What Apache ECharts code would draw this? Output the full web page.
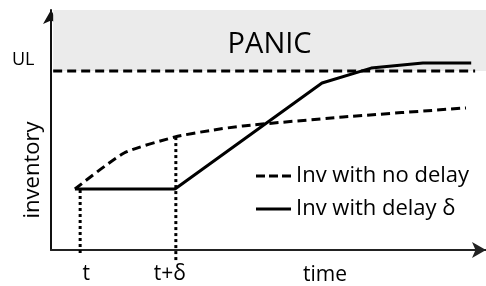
<!DOCTYPE html>
<html>
<head>
<meta charset="utf-8">
<script src="https://cdn.jsdelivr.net/npm/echarts@6/dist/echarts.min.js"></script>
<style>
  html, body { margin: 0; padding: 0; background: #fff; }
  #chart { width: 486px; height: 286px; }
</style>
</head>
<body>
<div id="chart"></div>
<script>
// inventory without delay (dashed)
const xNoDelay = [5.5, 16.8, 28.5, 36.6, 44.1, 67.1, 95.4];
const yNoDelay = [25.4, 40.4, 47.1, 49.8, 51.7, 55.4, 59.2];
// inventory with delay (solid)
const xDelay = [5.5, 28.5, 62.3, 73.6, 85.5, 96.6];
const yDelay = [25.4, 25.4, 69.6, 75.8, 77.9, 77.9];
// upper limit and panic zone
const upperLimit = 74.6;
const panicTop = 101.7;
// time markers (dotted drops) and their labels
const markerX = [6.7, 28.7];
const markerBottom = [-1.25, -4.2];
const markerTop = [25.4, 47.1];
const tickPositions = [8.1, 27.3];
const tickLabels = ['t', 't+δ'];

const font = '"Open Sans", sans-serif';

const pairs = (xs, ys) => xs.map((x, i) => [x, ys[i]]);

const markerSeries = markerX.map((x, i) => ({
    type: 'line',
    data: [[x, markerBottom[i]], [x, markerTop[i]]],
    symbol: 'none',
    clip: false,
    silent: true,
    lineStyle: { color: '#000', width: 3, type: [3, 3] },
    z: 3
}));

echarts.init(document.querySelector('#chart')).setOption({
    animation: false,
    grid: { left: 51, top: 10, width: 435, height: 240 },
    xAxis: {
        type: 'value',
        min: 0,
        max: 100,
        splitLine: { show: false },
        axisTick: { show: false },
        axisLine: {
            lineStyle: { color: '#222', width: 2 },
            symbol: ['none', 'arrow'],
            symbolSize: [12, 14]
        },
        axisLabel: {
            customValues: tickPositions,
            formatter: v => tickLabels[tickPositions.indexOf(v)],
            fontSize: 21,
            fontFamily: font,
            color: '#000',
            margin: 14
        }
    },
    yAxis: {
        type: 'value',
        min: 0,
        max: 100,
        splitLine: { show: false },
        axisTick: { show: false },
        axisLabel: { show: false },
        axisLine: {
            lineStyle: { color: '#111', width: 2 },
            symbol: ['none', 'arrow'],
            symbolSize: [12, 14]
        }
    },
    legend: {
        data: [
            { name: 'Inv with no delay', icon: 'path://M0 0h9v3H0zM13 0h9v3H13zM26 0h9v3H26z' },
            { name: 'Inv with delay δ', icon: 'path://M0 0h35v3H0z' }
        ],
        orient: 'vertical',
        left: 251,
        top: 160,
        itemWidth: 35,
        itemHeight: 14,
        itemGap: 11,
        textStyle: { fontSize: 22, fontFamily: font, color: '#000' }
    },
    graphic: [
        { type: 'text', left: 12, top: 51, style: { text: 'UL', fontSize: 18, fontFamily: font, fill: '#000' } },
        { type: 'text', x: 33, y: 170, rotation: Math.PI / 2,
          style: { text: 'inventory', fontSize: 22, fontFamily: font, fill: '#000', align: 'center', verticalAlign: 'middle' } },
        { type: 'text', x: 325, y: 275,
          style: { text: 'time', fontSize: 21, fontFamily: font, fill: '#000', align: 'center', verticalAlign: 'middle' } }
    ],
    series: [
        {
            name: 'UL',
            type: 'line',
            data: [[0.5, upperLimit], [97.5, upperLimit]],
            symbol: 'none',
            clip: false,
            silent: true,
            lineStyle: { color: '#000', width: 3, type: [9, 5] },
            markArea: {
                silent: true,
                itemStyle: { color: '#ebebeb' },
                label: {
                    show: true,
                    position: 'inside',
                    offset: [0, 4],
                    fontSize: 29,
                    fontFamily: font,
                    color: '#000'
                },
                data: [[{ name: 'PANIC', coord: [0.5, upperLimit] }, { coord: [100, panicTop] }]]
            },
            z: 2
        },
        {
            name: 'Inv with no delay',
            type: 'line',
            data: pairs(xNoDelay, yNoDelay),
            symbol: 'none',
            smooth: 0.2,
            lineStyle: { color: '#000', width: 3, type: [9, 5] },
            itemStyle: { color: '#000' },
            z: 4
        },
        {
            name: 'Inv with delay δ',
            type: 'line',
            data: pairs(xDelay, yDelay),
            symbol: 'none',
            lineStyle: { color: '#000', width: 3 },
            itemStyle: { color: '#000' },
            z: 5
        },
        ...markerSeries
    ]
});
</script>
</body>
</html>
